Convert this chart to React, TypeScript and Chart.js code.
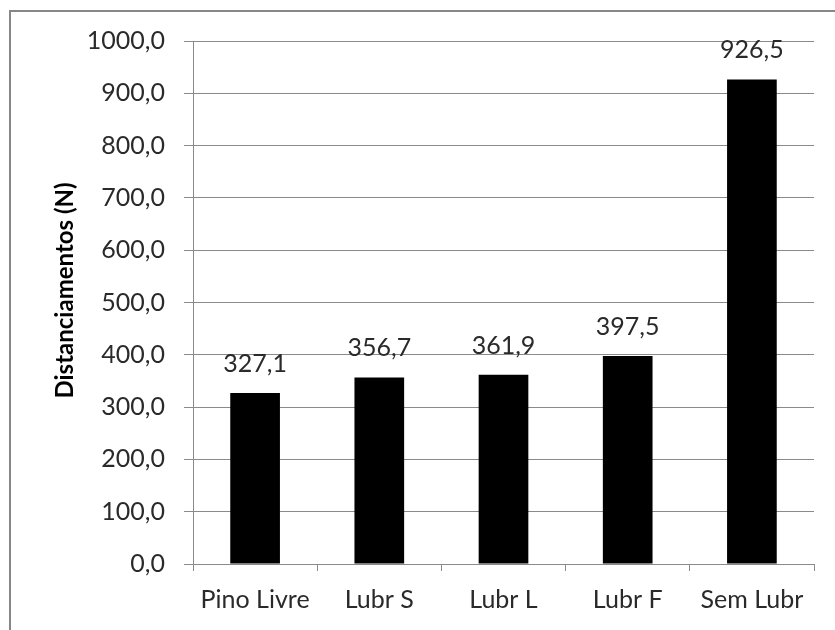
import React, { useEffect, useRef } from "react";
import { Chart, registerables } from "chart.js";

Chart.register(...registerables);

const categories = ["Pino Livre", "Lubr S", "Lubr L", "Lubr F", "Sem Lubr"];
const values = [327.1, 356.7, 361.9, 397.5, 926.5];
const yTitle = "Distanciamentos (N)";
const yMin = 0;
const yMax = 1000;
const yStep = 100;

const FONT = "Lato, 'Open Sans', sans-serif";
const TEXT = "#2a2a2a";
const GRID = "#8a8a8a";

const fmt = (v: number) => v.toFixed(1).replace(".", ",");

const valueLabels = {
  id: "valueLabels",
  afterDatasetsDraw(chart: any) {
    const ctx = chart.ctx;
    const meta = chart.getDatasetMeta(0);
    ctx.save();
    ctx.font = `25px ${FONT}`;
    ctx.fillStyle = TEXT;
    ctx.textAlign = "center";
    ctx.textBaseline = "alphabetic";
    meta.data.forEach((bar: any, i: number) => {
      ctx.fillText(fmt(values[i]), bar.x, bar.y - 21);
    });
    ctx.restore();
  },
};

const yTitlePlugin = {
  id: "yTitlePlugin",
  afterDraw(chart: any) {
    const ctx = chart.ctx;
    const area = chart.chartArea;
    ctx.save();
    ctx.translate(65, area.top + (area.bottom - area.top) * 0.477);
    ctx.rotate(-Math.PI / 2);
    ctx.font = `bold 24px ${FONT}`;
    ctx.fillStyle = "#000000";
    ctx.textAlign = "center";
    ctx.textBaseline = "middle";
    ctx.fillText(yTitle, 0, 0);
    ctx.restore();
  },
};

export default function App() {
  const ref = useRef<HTMLCanvasElement>(null);
  useEffect(() => {
    document.body.style.margin = "0";
    const chart = new Chart(ref.current!, {
      type: "bar",
      data: {
        labels: categories,
        datasets: [
          {
            data: values,
            backgroundColor: "#000000",
            borderWidth: 0,
            barPercentage: 0.4,
            categoryPercentage: 1,
          },
        ],
      },
      options: {
        animation: false,
        responsive: false,
        devicePixelRatio: 1,
        layout: { padding: { top: 41, right: 21, left: 0, bottom: 0 } },
        plugins: { legend: { display: false }, tooltip: { enabled: false } },
        scales: {
          x: {
            afterFit: (s: any) => {
              s.height = 66;
            },
            grid: {
              drawOnChartArea: false,
              drawTicks: true,
              tickLength: 7,
              color: GRID,
            },
            border: { color: GRID, width: 1 },
            ticks: {
              color: TEXT,
              font: { family: FONT, size: 25 },
              padding: 14,
              maxRotation: 0,
            },
          },
          y: {
            min: yMin,
            max: yMax,
            afterFit: (s: any) => {
              s.width = 193;
            },
            grid: { color: GRID, tickLength: 9, lineWidth: 1 },
            border: { color: GRID, width: 1 },
            ticks: {
              stepSize: yStep,
              color: TEXT,
              font: { family: FONT, size: 25 },
              padding: 19,
              callback: (v: any) => fmt(Number(v)),
            },
            title: { display: false, text: yTitle },
          },
        },
      },
      plugins: [valueLabels, yTitlePlugin],
    });
    return () => chart.destroy();
  }, []);
  return (
    <div style={{ position: "relative", width: 835, height: 630, background: "#fff" }}>
      <canvas ref={ref} width={835} height={630} style={{ position: "absolute", left: 0, top: 0 }} />
      <div
        style={{
          position: "absolute",
          left: 9,
          top: 10,
          width: 840,
          height: 640,
          borderLeft: "2px solid #878787",
          borderTop: "2px solid #878787",
          pointerEvents: "none",
        }}
      />
    </div>
  );
}
